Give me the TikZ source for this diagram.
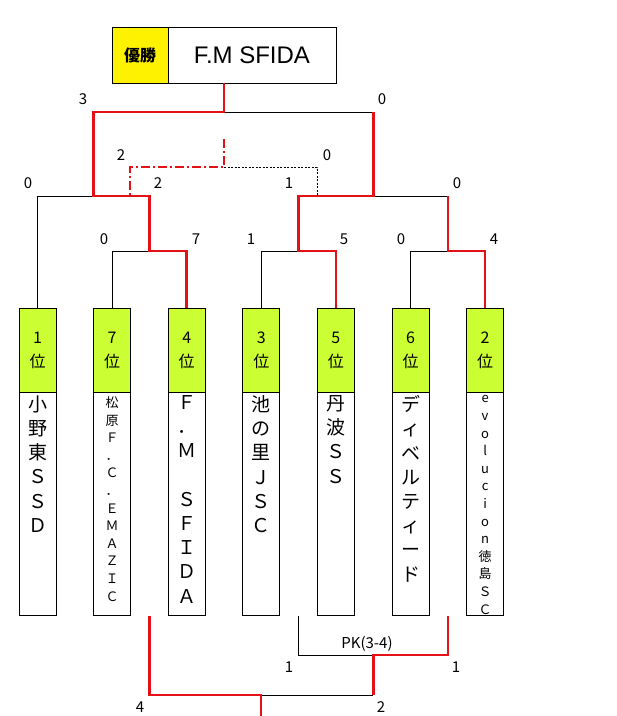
\documentclass[tikz,border=0pt]{standalone}
\usepackage{fontspec}
\usepackage{tikz}
\usetikzlibrary{positioning}
\newfontfamily\jp{Noto Sans CJK JP}
\newfontfamily\lat{Liberation Sans}
\definecolor{winred}{RGB}{228,18,22}
\definecolor{rankgreen}{RGB}{204,255,51}
\tikzset{font=\jp}
\tikzset{every node/.append style={transform shape=false}}
\tikzset{
  win/.style={winred, line width=2.6pt},
  blk/.style={black, line width=0.8pt},
  score/.style={font=\jp\fontsize{15}{15}\selectfont, inner sep=0pt},
  rank/.style={draw, line width=0.8pt, fill=rankgreen, minimum width=37pt, minimum height=84pt,
    inner sep=0pt, align=center, font=\jp\fontsize{16}{24}\selectfont},
  namebox/.style={draw, line width=0.8pt, minimum width=37pt, minimum height=223pt, anchor=north},
  nametext/.style={anchor=north, inner sep=0pt, align=center, font=\jp\fontsize{19}{24.2}\selectfont},
  smalltext/.style={anchor=north, inner sep=0pt, align=center, font=\jp\fontsize{13}{17.6}\selectfont}
}

\begin{document}
\begin{tikzpicture}[x=1pt, y=-1pt]
  \useasboundingbox (0,0) rectangle (617,716);
  % champion
  \node[draw, line width=0.8pt, minimum width=168pt, minimum height=56pt, inner sep=0pt,
    font=\lat\fontsize{24}{24}\selectfont] (champ) at (252,55) {F.M SFIDA};
  \node[draw, line width=0.8pt, fill=yellow, minimum width=56pt, minimum height=56pt, inner sep=0pt,
    font=\jp\bfseries\fontsize{16}{16}\selectfont] (yusho) at (140,55) {優勝};
  % teams
  \node[rank] (r1) at (37.5,350) {1\\位};
  \node[rank] (r2) at (112.1,350) {7\\位};
  \node[rank] (r3) at (186.7,350) {4\\位};
  \node[rank] (r4) at (261.3,350) {3\\位};
  \node[rank] (r5) at (335.9,350) {5\\位};
  \node[rank] (r6) at (410.5,350) {6\\位};
  \node[rank] (r7) at (485.1,350) {2\\位};
  \node[namebox] (n1) at (r1.south) {};
  \node[namebox] (n2) at (r2.south) {};
  \node[namebox] (n3) at (r3.south) {};
  \node[namebox] (n4) at (r4.south) {};
  \node[namebox] (n5) at (r5.south) {};
  \node[namebox] (n6) at (r6.south) {};
  \node[namebox] (n7) at (r7.south) {};
  \node[nametext] (t1) at ([yshift=-3pt]n1.north) {小\\野\\東\\Ｓ\\Ｓ\\Ｄ};
  \node[smalltext] (t2) at ([yshift=-4pt]n2.north) {松\\原\\Ｆ\\．\\Ｃ\\．\\Ｅ\\Ｍ\\Ａ\\Ｚ\\Ｉ\\Ｃ};
  \node[nametext] (t3) at ([yshift=-3pt]n3.north) {Ｆ\\．\\Ｍ\\ \\Ｓ\\Ｆ\\Ｉ\\Ｄ\\Ａ};
  \node[nametext] (t4) at ([yshift=-3pt]n4.north) {池\\の\\里\\Ｊ\\Ｓ\\Ｃ};
  \node[nametext] (t5) at ([yshift=-3pt]n5.north) {丹\\波\\Ｓ\\Ｓ};
  \node[nametext] (t6) at ([yshift=-3pt]n6.north) {デ\\ィ\\ベ\\ル\\テ\\ィ\\ー\\ド};
  \node[smalltext] (t7) at ([yshift=-3pt]n7.north) {e\\v\\o\\l\\u\\c\\i\\o\\n\\徳\\島\\Ｓ\\Ｃ};
  % junctions
  \coordinate (qa) at (149.4,251);
  \coordinate (qb) at (298.6,251);
  \coordinate (qc) at (447.8,251);
  \coordinate (sa) at (93.5,196);
  \coordinate (sb) at (373.2,196);
  \coordinate (fin) at (224,112);
  \coordinate (thd) at (224,167);
  \coordinate (pk) at (373.2,655);
  \coordinate (bt) at (261,695);
  % bracket
  \draw[blk] (r1.north) |- (sa);
  \draw[blk] (r2.north) |- (qa);
  \draw[blk] (r4.north) |- (qb);
  \draw[blk] (r6.north) |- (qc);
  \draw[blk] (fin) -- (fin -| sb);
  \draw[blk] (qc |- sb) -- (sb);
  \draw[win] (r3.north) |- (qa) |- (sa) |- (fin) -- (fin |- champ.south);
  \draw[win] (r5.north) |- (qb) |- (sb) -- (sb |- fin);
  \draw[win] (r7.north) |- (qc) -- (qc |- sb);
  % third place
  \draw[blk, line width=0.6pt, dash pattern=on 2pt off 1.5pt] (thd) -| (317,196);
  \draw[winred, line width=1.8pt, dash pattern=on 9pt off 3pt on 2pt off 3pt] (224,139) -- (thd) -| (130,196);
  % lower bracket
  \draw[blk] (qb |- n4.south) |- (pk);
  \draw[blk] (bt) -- (pk |- bt);
  \draw[win] (qc |- n7.south) |- (pk) -- (pk |- bt);
  \draw[win] (qa |- n3.south) |- (bt) -- (bt |- 0,716);
  % scores
  \node[score] at (83,99) {3};
  \node[score] at (382,99) {0};
  \node[score] at (121,155) {2};
  \node[score] at (327,155) {0};
  \node[score] at (28,183) {0};
  \node[score] at (158,183) {2};
  \node[score] at (289,183) {1};
  \node[score] at (457,183) {0};
  \node[score] at (104,239) {0};
  \node[score] at (196,239) {7};
  \node[score] at (251,239) {1};
  \node[score] at (344,239) {5};
  \node[score] at (401,239) {0};
  \node[score] at (494,239) {4};
  \node[score] at (367,644) {PK(3-4)};
  \node[score] at (289,667) {1};
  \node[score] at (456,667) {1};
  \node[score] at (140,707) {4};
  \node[score] at (381,707) {2};
\end{tikzpicture}
\end{document}
